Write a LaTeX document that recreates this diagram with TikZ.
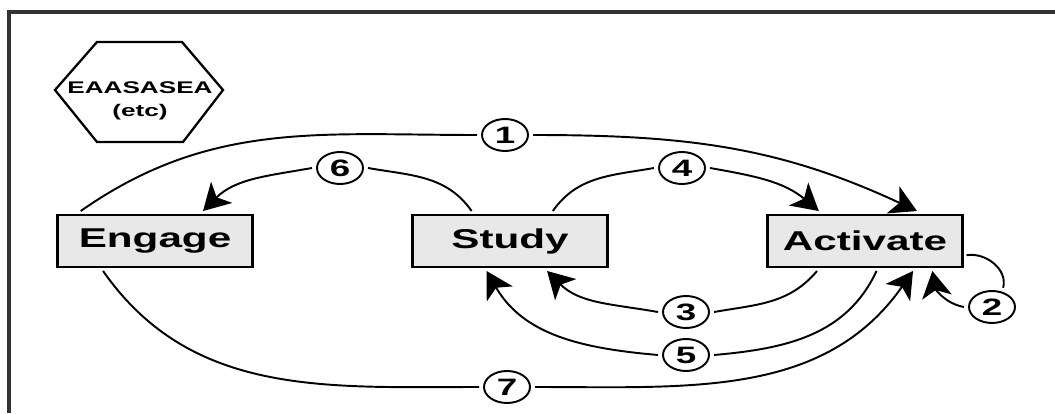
\documentclass[tikz,border=0pt]{standalone}
\usepackage{fontspec}
\usepackage{tikz}
\usetikzlibrary{shapes.geometric,arrows.meta}
\newfontfamily\diagfont[FakeStretch=1.55]{Liberation Sans}

\begin{document}
\begin{tikzpicture}[x=0.02cm,y=0.02cm,
  phase/.style={draw,line width=1.7pt,fill=gray!18,minimum width=3.9cm,minimum height=1.04cm,outer sep=0.08cm,font=\diagfont\bfseries\fontsize{15.5}{17}\selectfont},
  num/.style={draw,ellipse,line width=1.1pt,minimum width=0.92cm,minimum height=0.64cm,inner sep=0pt,outer sep=0.1cm,font=\diagfont\bfseries\fontsize{13.5}{15}\selectfont},
  link/.style={line width=1.1pt},
  flow/.style={link,-{Stealth[length=15pt,width=17pt,inset=4pt]}}]
\useasboundingbox (0,0) rectangle (1055,413);
\draw[line width=2pt,black!80] (9,0) -- (9,401) -- (1055,401);
\draw[line width=1.3pt] (55,323) -- (97,371) -- (182,371) -- (223,323) -- (183,271) -- (97,271) -- cycle;
\node[align=center,font=\diagfont\bfseries\fontsize{9.6}{13}\selectfont] (hex) at (140,312) {EAASASEA\\(etc)};
\node[phase] (eng) at (155,172) {Engage};
\node[phase] (stu) at (510,172) {Study};
\node[phase] (act) at (865,172) {Activate};
\node[num] (n1) at (505,278) {1};
\node[num] (n2) at (992,106) {2};
\node[num] (n3) at (686,101) {3};
\node[num] (n4) at (682,245) {4};
\node[num] (n5) at (686,58) {5};
\node[num] (n6) at (340,245) {6};
\node[num] (n7) at (507,26) {7};
\draw[link] (eng.158) to[out=35,in=180] (n1.west);
\draw[flow] (n1.east) to[out=0,in=155] (act.30);
\draw[link] (stu.142) to[out=125,in=-10] (n6.east);
\draw[flow] (n6.west) to[out=190,in=45] (eng.32);
\draw[link] (stu.35) to[out=55,in=190] (n4.west);
\draw[flow] (n4.east) to[out=-10,in=140] (act.147);
\draw[link] (act.212) to[out=230,in=10] (n3.east);
\draw[flow] (n3.west) to[out=170,in=-45] (stu.321);
\draw[link] (act.291) to[out=245,in=5] (n5.east);
\draw[flow] (n5.west) to[out=175,in=-60] (stu.232);
\draw[link] (eng.210) to[out=-55,in=180] (n7.west);
\draw[flow] (n7.east) to[out=0,in=-125] (act.328);
\draw[link] (act.-8) to[out=10,in=75] (n2.60);
\draw[flow] (n2.west) to[out=170,in=-80] (act.336);
\end{tikzpicture}
\end{document}
